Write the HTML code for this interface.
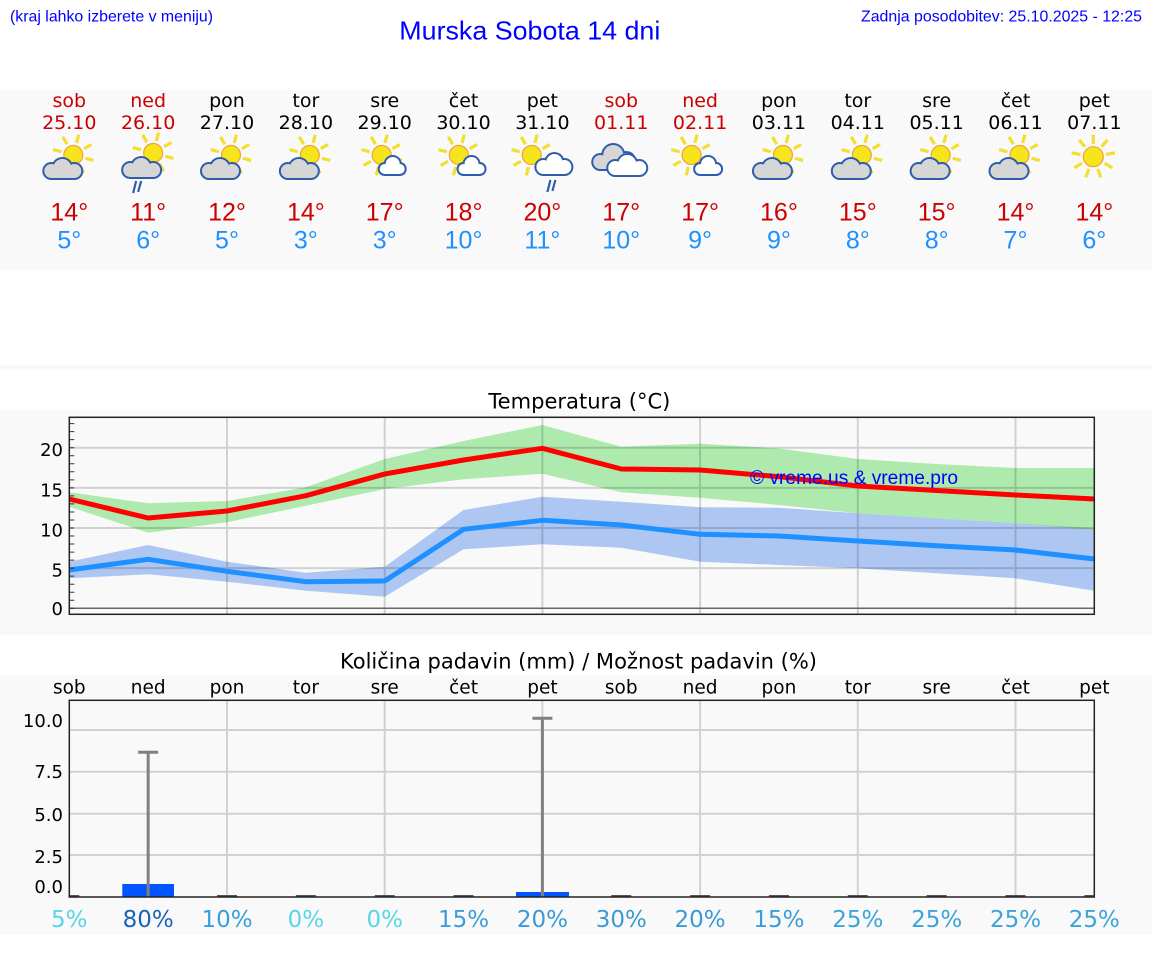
<!DOCTYPE html>
<html><head><meta charset="utf-8"><style>
html,body{margin:0;padding:0;background:#fff;}
svg{display:block;}
</style></head><body>
<svg width="1152" height="975" viewBox="0 0 1152 975" xmlns="http://www.w3.org/2000/svg">
<defs>
<clipPath id="tc"><rect x="69.3" y="417.3" width="1025" height="197"/></clipPath>
<clipPath id="pc"><rect x="69.3" y="700.3" width="1025" height="196.7"/></clipPath>
</defs>
<rect width="1152" height="975" fill="#fff"/>
<rect x="0" y="90" width="1152" height="180" fill="#f9f9f9"/>
<rect x="0" y="365" width="1152" height="5" fill="#f9f9f9"/>
<rect x="0" y="410" width="1152" height="225" fill="#f9f9f9"/>
<rect x="0" y="675" width="1152" height="260" fill="#f9f9f9"/>

<!-- header -->
<g font-family="Liberation Sans, Arial, sans-serif" fill="#0000ff">
<text x="10" y="21.7" font-size="16" textLength="203" lengthAdjust="spacingAndGlyphs">(kraj lahko izberete v meniju)</text>
<text x="399.3" y="39.7" font-size="26" textLength="261" lengthAdjust="spacingAndGlyphs">Murska Sobota 14 dni</text>
<text x="861" y="21.7" font-size="16" textLength="281" lengthAdjust="spacingAndGlyphs">Zadnja posodobitev: 25.10.2025 - 12:25</text>
</g>

<!-- top panel labels -->
<g font-family="DejaVu Sans, sans-serif" font-size="19" text-anchor="middle">
<text x="69.3" y="107" fill="#cc0000">sob</text><text x="69.3" y="129" fill="#cc0000">25.10</text>
<text x="148.15" y="107" fill="#cc0000">ned</text><text x="148.15" y="129" fill="#cc0000">26.10</text>
<text x="227" y="107" fill="#000">pon</text><text x="227" y="129" fill="#000">27.10</text>
<text x="305.85" y="107" fill="#000">tor</text><text x="305.85" y="129" fill="#000">28.10</text>
<text x="384.7" y="107" fill="#000">sre</text><text x="384.7" y="129" fill="#000">29.10</text>
<text x="463.55" y="107" fill="#000">čet</text><text x="463.55" y="129" fill="#000">30.10</text>
<text x="542.4" y="107" fill="#000">pet</text><text x="542.4" y="129" fill="#000">31.10</text>
<text x="621.25" y="107" fill="#cc0000">sob</text><text x="621.25" y="129" fill="#cc0000">01.11</text>
<text x="700.1" y="107" fill="#cc0000">ned</text><text x="700.1" y="129" fill="#cc0000">02.11</text>
<text x="778.95" y="107" fill="#000">pon</text><text x="778.95" y="129" fill="#000">03.11</text>
<text x="857.8" y="107" fill="#000">tor</text><text x="857.8" y="129" fill="#000">04.11</text>
<text x="936.65" y="107" fill="#000">sre</text><text x="936.65" y="129" fill="#000">05.11</text>
<text x="1015.5" y="107" fill="#000">čet</text><text x="1015.5" y="129" fill="#000">06.11</text>
<text x="1094.35" y="107" fill="#000">pet</text><text x="1094.35" y="129" fill="#000">07.11</text>
</g>

<g font-family="Liberation Sans, Arial, sans-serif" font-size="25" text-anchor="middle">
<g fill="#cc0000">
<text x="69.3" y="220.7">14°</text><text x="148.15" y="220.7">11°</text><text x="227" y="220.7">12°</text><text x="305.85" y="220.7">14°</text><text x="384.7" y="220.7">17°</text><text x="463.55" y="220.7">18°</text><text x="542.4" y="220.7">20°</text><text x="621.25" y="220.7">17°</text><text x="700.1" y="220.7">17°</text><text x="778.95" y="220.7">16°</text><text x="857.8" y="220.7">15°</text><text x="936.65" y="220.7">15°</text><text x="1015.5" y="220.7">14°</text><text x="1094.35" y="220.7">14°</text>
</g>
<g fill="#1e90ff">
<text x="69.3" y="248.3">5°</text><text x="148.15" y="248.3">6°</text><text x="227" y="248.3">5°</text><text x="305.85" y="248.3">3°</text><text x="384.7" y="248.3">3°</text><text x="463.55" y="248.3">10°</text><text x="542.4" y="248.3">11°</text><text x="621.25" y="248.3">10°</text><text x="700.1" y="248.3">9°</text><text x="778.95" y="248.3">9°</text><text x="857.8" y="248.3">8°</text><text x="936.65" y="248.3">8°</text><text x="1015.5" y="248.3">7°</text><text x="1094.35" y="248.3">6°</text>
</g>
</g>

<!-- icons -->
<!-- type A helper content repeated -->
<g transform="translate(69.3,0)">
 <g transform="translate(4,155)"><path stroke="#f2df2e" stroke-width="3.2" d="M-12.07,-3.24L-20.29,-5.44M-6.25,-10.83L-10.5,-18.19M3.24,-12.07L5.44,-20.29M10.83,-6.25L18.19,-10.5M12.07,3.24L20.29,5.44M6.25,10.83L10.5,18.19M-3.24,12.07L-5.44,20.29M-10.83,6.25L-18.19,10.5"/><circle r="9.5" fill="#f6e41c" stroke="#efa33a" stroke-width="1.2"/></g>
 <g fill="#2f5dab"><circle cx="-18" cy="171" r="9"/><circle cx="-7" cy="168" r="11"/><circle cx="5" cy="171" r="9"/><rect x="-18" y="171" width="23" height="9"/></g>
 <g fill="#d6d6d6"><circle cx="-18" cy="171" r="7"/><circle cx="-7" cy="168" r="9"/><circle cx="5" cy="171" r="7"/><rect x="-18" y="171" width="23" height="7"/></g>
</g>
<g transform="translate(148.15,0)">
 <g transform="translate(5,153)"><path stroke="#f2df2e" stroke-width="3.2" d="M-12.07,-3.24L-20.29,-5.44M-6.25,-10.83L-10.5,-18.19M3.24,-12.07L5.44,-20.29M10.83,-6.25L18.19,-10.5M12.07,3.24L20.29,5.44M6.25,10.83L10.5,18.19M-3.24,12.07L-5.44,20.29M-10.83,6.25L-18.19,10.5"/><circle r="9.5" fill="#f6e41c" stroke="#efa33a" stroke-width="1.2"/></g>
 <g fill="#2f5dab"><circle cx="-18" cy="170" r="9"/><circle cx="-7" cy="167" r="11"/><circle cx="5" cy="170" r="9"/><rect x="-18" y="170" width="23" height="9"/></g>
 <g fill="#d6d6d6"><circle cx="-18" cy="170" r="7"/><circle cx="-7" cy="167" r="9"/><circle cx="5" cy="170" r="7"/><rect x="-18" y="170" width="23" height="7"/></g>
 <path stroke="#2f5dab" stroke-width="2.2" d="M-12,181L-15,193M-7,181L-10,192"/>
</g>
<g transform="translate(227,0)">
 <g transform="translate(4,155)"><path stroke="#f2df2e" stroke-width="3.2" d="M-12.07,-3.24L-20.29,-5.44M-6.25,-10.83L-10.5,-18.19M3.24,-12.07L5.44,-20.29M10.83,-6.25L18.19,-10.5M12.07,3.24L20.29,5.44M6.25,10.83L10.5,18.19M-3.24,12.07L-5.44,20.29M-10.83,6.25L-18.19,10.5"/><circle r="9.5" fill="#f6e41c" stroke="#efa33a" stroke-width="1.2"/></g>
 <g fill="#2f5dab"><circle cx="-18" cy="171" r="9"/><circle cx="-7" cy="168" r="11"/><circle cx="5" cy="171" r="9"/><rect x="-18" y="171" width="23" height="9"/></g>
 <g fill="#d6d6d6"><circle cx="-18" cy="171" r="7"/><circle cx="-7" cy="168" r="9"/><circle cx="5" cy="171" r="7"/><rect x="-18" y="171" width="23" height="7"/></g>
</g>
<g transform="translate(305.85,0)">
 <g transform="translate(4,155)"><path stroke="#f2df2e" stroke-width="3.2" d="M-12.07,-3.24L-20.29,-5.44M-6.25,-10.83L-10.5,-18.19M3.24,-12.07L5.44,-20.29M10.83,-6.25L18.19,-10.5M12.07,3.24L20.29,5.44M6.25,10.83L10.5,18.19M-3.24,12.07L-5.44,20.29M-10.83,6.25L-18.19,10.5"/><circle r="9.5" fill="#f6e41c" stroke="#efa33a" stroke-width="1.2"/></g>
 <g fill="#2f5dab"><circle cx="-18" cy="171" r="9"/><circle cx="-7" cy="168" r="11"/><circle cx="5" cy="171" r="9"/><rect x="-18" y="171" width="23" height="9"/></g>
 <g fill="#d6d6d6"><circle cx="-18" cy="171" r="7"/><circle cx="-7" cy="168" r="9"/><circle cx="5" cy="171" r="7"/><rect x="-18" y="171" width="23" height="7"/></g>
</g>
<!-- type B -->
<g transform="translate(384.7,0)">
 <g transform="translate(-3,155)"><path stroke="#f2df2e" stroke-width="3.2" d="M-12.07,-3.24L-20.29,-5.44M-6.25,-10.83L-10.5,-18.19M3.24,-12.07L5.44,-20.29M10.83,-6.25L18.19,-10.5M12.07,3.24L20.29,5.44M6.25,10.83L10.5,18.19M-3.24,12.07L-5.44,20.29M-10.83,6.25L-18.19,10.5"/><circle r="9.5" fill="#f6e41c" stroke="#efa33a" stroke-width="1.2"/></g>
 <g fill="#2f5dab"><circle cx="0" cy="169" r="7"/><circle cx="8" cy="164" r="9"/><circle cx="15" cy="169" r="7"/><rect x="0" y="169" width="15" height="7"/></g>
 <g fill="#fff"><circle cx="0" cy="169" r="5"/><circle cx="8" cy="164" r="7"/><circle cx="15" cy="169" r="5"/><rect x="0" y="169" width="15" height="5"/></g>
</g>
<g transform="translate(463.55,0)">
 <g transform="translate(-4.7,155)"><path stroke="#f2df2e" stroke-width="3.2" d="M-12.07,-3.24L-20.29,-5.44M-6.25,-10.83L-10.5,-18.19M3.24,-12.07L5.44,-20.29M10.83,-6.25L18.19,-10.5M12.07,3.24L20.29,5.44M6.25,10.83L10.5,18.19M-3.24,12.07L-5.44,20.29M-10.83,6.25L-18.19,10.5"/><circle r="9.5" fill="#f6e41c" stroke="#efa33a" stroke-width="1.2"/></g>
 <g fill="#2f5dab"><circle cx="0" cy="169" r="7"/><circle cx="8" cy="164" r="9"/><circle cx="16" cy="169" r="7"/><rect x="0" y="169" width="16" height="7"/></g>
 <g fill="#fff"><circle cx="0" cy="169" r="5"/><circle cx="8" cy="164" r="7"/><circle cx="16" cy="169" r="5"/><rect x="0" y="169" width="16" height="5"/></g>
</g>
<g transform="translate(542.4,0)">
 <g transform="translate(-10.7,155)"><path stroke="#f2df2e" stroke-width="3.2" d="M-12.07,-3.24L-20.29,-5.44M-6.25,-10.83L-10.5,-18.19M3.24,-12.07L5.44,-20.29M10.83,-6.25L18.19,-10.5M12.07,3.24L20.29,5.44M6.25,10.83L10.5,18.19M-3.24,12.07L-5.44,20.29M-10.83,6.25L-18.19,10.5"/><circle r="9.5" fill="#f6e41c" stroke="#efa33a" stroke-width="1.2"/></g>
 <g fill="#2f5dab"><circle cx="1" cy="167" r="9"/><circle cx="12" cy="162" r="10"/><circle cx="22" cy="167" r="9"/><rect x="1" y="167" width="21" height="9"/></g>
 <g fill="#fff"><circle cx="1" cy="167" r="7"/><circle cx="12" cy="162" r="8"/><circle cx="22" cy="167" r="7"/><rect x="1" y="167" width="21" height="7"/></g>
 <path stroke="#2f5dab" stroke-width="2.2" d="M8,180L5,192M13,180L10,191"/>
</g>
<!-- type C -->
<g transform="translate(621.25,0)">
 <g fill="#2f5dab"><circle cx="-21" cy="162" r="9"/><circle cx="-8" cy="155" r="12"/><circle cx="5" cy="161" r="10"/><rect x="-21" y="162" width="26" height="9"/></g>
 <g fill="#d6d6d6"><circle cx="-21" cy="162" r="7"/><circle cx="-8" cy="155" r="10"/><circle cx="5" cy="161" r="8"/><rect x="-21" y="162" width="26" height="7"/></g>
 <g fill="#2f5dab"><circle cx="-6" cy="168" r="9"/><circle cx="6" cy="164" r="11"/><circle cx="18" cy="168" r="9"/><rect x="-6" y="168" width="24" height="9"/></g>
 <g fill="#fff"><circle cx="-6" cy="168" r="7"/><circle cx="6" cy="164" r="9"/><circle cx="18" cy="168" r="7"/><rect x="-6" y="168" width="24" height="7"/></g>
</g>
<g transform="translate(700.1,0)">
 <g transform="translate(-8.5,155)"><path stroke="#f2df2e" stroke-width="3.2" d="M-12.07,-3.24L-20.29,-5.44M-6.25,-10.83L-10.5,-18.19M3.24,-12.07L5.44,-20.29M10.83,-6.25L18.19,-10.5M12.07,3.24L20.29,5.44M6.25,10.83L10.5,18.19M-3.24,12.07L-5.44,20.29M-10.83,6.25L-18.19,10.5"/><circle r="9.5" fill="#f6e41c" stroke="#efa33a" stroke-width="1.2"/></g>
 <g fill="#2f5dab"><circle cx="0" cy="169" r="7"/><circle cx="8" cy="164" r="9"/><circle cx="16" cy="169" r="7"/><rect x="0" y="169" width="16" height="7"/></g>
 <g fill="#fff"><circle cx="0" cy="169" r="5"/><circle cx="8" cy="164" r="7"/><circle cx="16" cy="169" r="5"/><rect x="0" y="169" width="16" height="5"/></g>
</g>
<!-- type A again -->
<g transform="translate(778.95,0)">
 <g transform="translate(4,155)"><path stroke="#f2df2e" stroke-width="3.2" d="M-12.07,-3.24L-20.29,-5.44M-6.25,-10.83L-10.5,-18.19M3.24,-12.07L5.44,-20.29M10.83,-6.25L18.19,-10.5M12.07,3.24L20.29,5.44M6.25,10.83L10.5,18.19M-3.24,12.07L-5.44,20.29M-10.83,6.25L-18.19,10.5"/><circle r="9.5" fill="#f6e41c" stroke="#efa33a" stroke-width="1.2"/></g>
 <g fill="#2f5dab"><circle cx="-18" cy="171" r="9"/><circle cx="-7" cy="168" r="11"/><circle cx="5" cy="171" r="9"/><rect x="-18" y="171" width="23" height="9"/></g>
 <g fill="#d6d6d6"><circle cx="-18" cy="171" r="7"/><circle cx="-7" cy="168" r="9"/><circle cx="5" cy="171" r="7"/><rect x="-18" y="171" width="23" height="7"/></g>
</g>
<g transform="translate(857.8,0)">
 <g transform="translate(4,155)"><path stroke="#f2df2e" stroke-width="3.2" d="M-12.07,-3.24L-20.29,-5.44M-6.25,-10.83L-10.5,-18.19M3.24,-12.07L5.44,-20.29M10.83,-6.25L18.19,-10.5M12.07,3.24L20.29,5.44M6.25,10.83L10.5,18.19M-3.24,12.07L-5.44,20.29M-10.83,6.25L-18.19,10.5"/><circle r="9.5" fill="#f6e41c" stroke="#efa33a" stroke-width="1.2"/></g>
 <g fill="#2f5dab"><circle cx="-18" cy="171" r="9"/><circle cx="-7" cy="168" r="11"/><circle cx="5" cy="171" r="9"/><rect x="-18" y="171" width="23" height="9"/></g>
 <g fill="#d6d6d6"><circle cx="-18" cy="171" r="7"/><circle cx="-7" cy="168" r="9"/><circle cx="5" cy="171" r="7"/><rect x="-18" y="171" width="23" height="7"/></g>
</g>
<g transform="translate(936.65,0)">
 <g transform="translate(4,155)"><path stroke="#f2df2e" stroke-width="3.2" d="M-12.07,-3.24L-20.29,-5.44M-6.25,-10.83L-10.5,-18.19M3.24,-12.07L5.44,-20.29M10.83,-6.25L18.19,-10.5M12.07,3.24L20.29,5.44M6.25,10.83L10.5,18.19M-3.24,12.07L-5.44,20.29M-10.83,6.25L-18.19,10.5"/><circle r="9.5" fill="#f6e41c" stroke="#efa33a" stroke-width="1.2"/></g>
 <g fill="#2f5dab"><circle cx="-18" cy="171" r="9"/><circle cx="-7" cy="168" r="11"/><circle cx="5" cy="171" r="9"/><rect x="-18" y="171" width="23" height="9"/></g>
 <g fill="#d6d6d6"><circle cx="-18" cy="171" r="7"/><circle cx="-7" cy="168" r="9"/><circle cx="5" cy="171" r="7"/><rect x="-18" y="171" width="23" height="7"/></g>
</g>
<g transform="translate(1015.5,0)">
 <g transform="translate(4,155)"><path stroke="#f2df2e" stroke-width="3.2" d="M-12.07,-3.24L-20.29,-5.44M-6.25,-10.83L-10.5,-18.19M3.24,-12.07L5.44,-20.29M10.83,-6.25L18.19,-10.5M12.07,3.24L20.29,5.44M6.25,10.83L10.5,18.19M-3.24,12.07L-5.44,20.29M-10.83,6.25L-18.19,10.5"/><circle r="9.5" fill="#f6e41c" stroke="#efa33a" stroke-width="1.2"/></g>
 <g fill="#2f5dab"><circle cx="-18" cy="171" r="9"/><circle cx="-7" cy="168" r="11"/><circle cx="5" cy="171" r="9"/><rect x="-18" y="171" width="23" height="9"/></g>
 <g fill="#d6d6d6"><circle cx="-18" cy="171" r="7"/><circle cx="-7" cy="168" r="9"/><circle cx="5" cy="171" r="7"/><rect x="-18" y="171" width="23" height="7"/></g>
</g>
<!-- type D -->
<g transform="translate(1093.3,156.7)">
 <path stroke="#f2df2e" stroke-width="3.2" d="M-12.8,-2.26L-21.67,-3.83M-8.36,-9.96L-14.15,-16.85M0,-13L0,-22M8.36,-9.96L14.15,-16.85M12.8,-2.26L21.67,-3.83M11.26,6.5L19.05,11M4.45,12.22L7.52,20.68M-4.45,12.22L-7.52,20.68M-11.26,6.5L-19.05,11"/>
 <circle r="10" fill="#f6e41c" stroke="#efa33a" stroke-width="1.2"/>
</g>

<!-- Temperature chart -->
<text x="579.4" y="408.3" font-family="DejaVu Sans, sans-serif" font-size="21" text-anchor="middle" fill="#000" textLength="182" lengthAdjust="spacingAndGlyphs">Temperatura (°C)</text>
<g clip-path="url(#tc)">
<polygon fill="rgba(100,150,235,0.5)" points="69.3,561.7 148.15,545 227,561.7 305.85,572.7 384.7,566.7 463.55,510 542.4,496.7 621.25,501.7 700.1,507.3 778.95,507.7 857.8,513.3 936.65,518.3 1015.5,523.3 1094.35,528.3 1094.35,590.7 1015.5,578.3 936.65,573.3 857.8,568.3 778.95,565 700.1,561.7 621.25,547.7 542.4,544.3 463.55,549.3 384.7,596.7 305.85,590.7 227,581.7 148.15,574.3 69.3,578.3"/>
<polygon fill="rgba(100,220,100,0.5)" points="69.3,492.3 148.15,503.3 227,501 305.85,487.3 384.7,459 463.55,441 542.4,425 621.25,446.7 700.1,443.7 778.95,448.5 857.8,459 936.65,464 1015.5,468 1094.35,468 1094.35,530 1015.5,523.3 936.65,518.3 857.8,513.3 778.95,505 700.1,497.7 621.25,492.3 542.4,473.7 463.55,479.3 384.7,489 305.85,505.7 227,522.3 148.15,532.7 69.3,506.7"/>
<path stroke="rgba(0,0,0,0.16)" stroke-width="2" fill="none" d="M69.3,447.7H1094.3M69.3,487.85H1094.3M69.3,528H1094.3M69.3,568.15H1094.3M227,417.3V614.3M384.7,417.3V614.3M542.4,417.3V614.3M700.1,417.3V614.3M857.8,417.3V614.3M1015.5,417.3V614.3"/>
<path stroke="#666" stroke-width="1.5" d="M69.3,608.3H1094.3"/>
<polyline fill="none" stroke="#ff0000" stroke-width="5" stroke-linejoin="round" points="69.3,499 148.15,518 227,511 305.85,495.7 384.7,474 463.55,460 542.4,448.3 621.25,469 700.1,470 778.95,476.7 857.8,486 936.65,490.5 1015.5,495 1094.35,499"/>
<polyline fill="none" stroke="#1e90ff" stroke-width="5" stroke-linejoin="round" points="69.3,570 148.15,559.3 227,571.3 305.85,581.7 384.7,581 463.55,529.3 542.4,520.3 621.25,525 700.1,534.3 778.95,536 857.8,541 936.65,545.7 1015.5,550 1094.35,559"/>
</g>
<path stroke="#333" stroke-width="1" d="M69.3,608.3h5M69.3,600.27h5M69.3,592.24h5M69.3,584.21h5M69.3,576.18h5M69.3,568.15h5M69.3,560.12h5M69.3,552.09h5M69.3,544.06h5M69.3,536.03h5M69.3,528h5M69.3,519.97h5M69.3,511.94h5M69.3,503.91h5M69.3,495.88h5M69.3,487.85h5M69.3,479.82h5M69.3,471.79h5M69.3,463.76h5M69.3,455.73h5M69.3,447.7h5M69.3,439.67h5M69.3,431.64h5M69.3,423.61h5"/>
<rect x="69.3" y="417.3" width="1025" height="197" fill="none" stroke="#222" stroke-width="1.5"/>
<text x="750" y="484" font-family="Liberation Sans, Arial, sans-serif" font-size="19" fill="#0000ff" textLength="208" lengthAdjust="spacingAndGlyphs">© vreme.us &amp; vreme.pro</text>
<g font-family="DejaVu Sans, sans-serif" font-size="18" text-anchor="end" fill="#000">
<text x="63" y="456.2">20</text><text x="63" y="496.3">15</text><text x="63" y="536.5">10</text><text x="63" y="576.3">5</text><text x="63" y="615.2">0</text>
</g>

<!-- Precipitation chart -->
<text x="578.5" y="668.3" font-family="DejaVu Sans, sans-serif" font-size="21" text-anchor="middle" fill="#000" textLength="477" lengthAdjust="spacingAndGlyphs">Količina padavin (mm) / Možnost padavin (%)</text>
<g font-family="DejaVu Sans, sans-serif" font-size="18.5" text-anchor="middle" fill="#000">
<text x="69.3" y="693.3">sob</text><text x="148.15" y="693.3">ned</text><text x="227" y="693.3">pon</text><text x="305.85" y="693.3">tor</text><text x="384.7" y="693.3">sre</text><text x="463.55" y="693.3">čet</text><text x="542.4" y="693.3">pet</text><text x="621.25" y="693.3">sob</text><text x="700.1" y="693.3">ned</text><text x="778.95" y="693.3">pon</text><text x="857.8" y="693.3">tor</text><text x="936.65" y="693.3">sre</text><text x="1015.5" y="693.3">čet</text><text x="1094.35" y="693.3">pet</text>
</g>
<path stroke="rgba(0,0,0,0.16)" stroke-width="2" fill="none" d="M69.3,730H1094.3M69.3,771.7H1094.3M69.3,813.7H1094.3M69.3,855H1094.3M227,700.3V897M384.7,700.3V897M542.4,700.3V897M700.1,700.3V897M857.8,700.3V897M1015.5,700.3V897"/>
<g clip-path="url(#pc)">
<rect x="122.3" y="884" width="51.7" height="13" fill="#0055ff"/>
<rect x="516" y="892" width="53" height="5" fill="#0055ff"/>
<path stroke="#555" stroke-width="2.5" d="M59.3,896.3h20M217,896.3h20M295.85,896.3h20M374.7,896.3h20M453.55,896.3h20M611.25,896.3h20M690.1,896.3h20M768.95,896.3h20M847.8,896.3h20M926.65,896.3h20M1005.5,896.3h20M1084.35,896.3h20"/>
</g>
<path stroke="#808080" stroke-width="3" fill="none" d="M148.15,897V752.3M138.15,752.3H158.15M542.4,897V718.3M532.4,718.3H552.4"/>
<rect x="69.3" y="700.3" width="1025" height="196.7" fill="none" stroke="#222" stroke-width="1.5"/>
<g font-family="DejaVu Sans, sans-serif" font-size="18" text-anchor="end" fill="#000">
<text x="63" y="727">10.0</text><text x="63" y="778">7.5</text><text x="63" y="821">5.0</text><text x="63" y="863">2.5</text><text x="63" y="893.2">0.0</text>
</g>
<g font-family="DejaVu Sans, sans-serif" font-size="23" text-anchor="middle">
<text x="69.3" y="927" fill="#5ad5e6">5%</text>
<text x="148.15" y="927" fill="#1a64b8">80%</text>
<text x="227" y="927" fill="#37a0dc">10%</text>
<text x="305.85" y="927" fill="#5ad5e6">0%</text>
<text x="384.7" y="927" fill="#5ad5e6">0%</text>
<text x="463.55" y="927" fill="#3a9dd9">15%</text>
<text x="542.4" y="927" fill="#3a9ad6">20%</text>
<text x="621.25" y="927" fill="#3a9ad6">30%</text>
<text x="700.1" y="927" fill="#3a9ad6">20%</text>
<text x="778.95" y="927" fill="#3a9dd9">15%</text>
<text x="857.8" y="927" fill="#3ca3db">25%</text>
<text x="936.65" y="927" fill="#3ca3db">25%</text>
<text x="1015.5" y="927" fill="#3ca3db">25%</text>
<text x="1094.35" y="927" fill="#3ca3db">25%</text>
</g>
</svg>
</body></html>
